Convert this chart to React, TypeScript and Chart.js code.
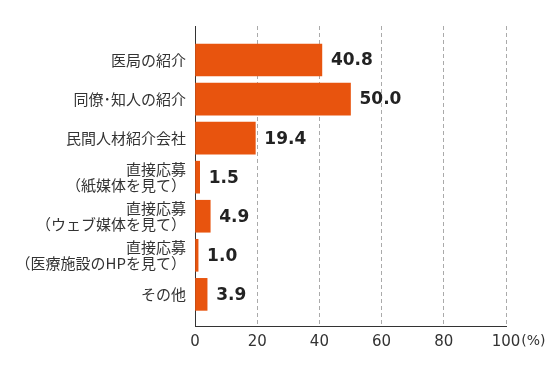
import React, { useEffect, useRef } from "react";
import { Chart, registerables } from "chart.js";

Chart.register(...registerables);

const categories: string[][] = [
  ["医局の紹介"],
  ["同僚･知人の紹介"],
  ["民間人材紹介会社"],
  ["直接応募", "（紙媒体を見て）"],
  ["直接応募", "（ウェブ媒体を見て）"],
  ["直接応募", "（医療施設のHPを見て）"],
  ["その他"],
];
const values: number[] = [40.8, 50.0, 19.4, 1.5, 4.9, 1.0, 3.9];
const xTicks: number[] = [0, 20, 40, 60, 80, 100];
const unitLabel = "(%)";

const BAR_COLOR = "#E8540E";

export default function App() {
  const ref = useRef<HTMLCanvasElement | null>(null);

  useEffect(() => {
    if (!ref.current) return;
    const valueLabels = {
      id: "valueLabels",
      afterDatasetsDraw(chart: any) {
        const ctx = chart.ctx;
        const meta = chart.getDatasetMeta(0);
        ctx.save();
        ctx.font = "bold 17px 'DejaVu Sans'";
        ctx.fillStyle = "#222";
        ctx.textAlign = "left";
        ctx.textBaseline = "middle";
        meta.data.forEach((el: any, i: number) => {
          ctx.fillText(values[i].toFixed(1), el.x + 9, el.y + 1);
        });
        ctx.restore();
      },
      afterDraw(chart: any) {
        const ctx = chart.ctx;
        const xs = chart.scales.x;
        const last = xTicks[xTicks.length - 1];
        ctx.save();
        ctx.font = "15px 'DejaVu Sans'";
        const w = ctx.measureText(String(last)).width;
        ctx.fillStyle = "#333";
        ctx.textAlign = "left";
        ctx.textBaseline = "middle";
        ctx.font = "14px 'DejaVu Sans'";
        ctx.fillText(unitLabel, xs.getPixelForValue(last) + w / 2 + 1, xs.top + 15);
        ctx.restore();
      },
    };

    const chart = new Chart(ref.current, {
      type: "bar",
      data: {
        datasets: [
          {
            data: values.map((v, i) => ({ x: v, y: i })),
            backgroundColor: BAR_COLOR,
            borderWidth: 0,
            barThickness: 32,
          },
        ],
      },
      options: {
        indexAxis: "y",
        animation: false,
        responsive: true,
        maintainAspectRatio: false,
        layout: { padding: { top: 26, right: 44, left: 0, bottom: 0 } },
        plugins: {
          legend: { display: false },
          tooltip: { enabled: false },
        },
        scales: {
          x: {
            type: "linear",
            min: 0,
            max: 100,
            offset: false,
            afterBuildTicks(scale: any) {
              scale.ticks = xTicks.map((v) => ({ value: v }));
            },
            afterFit(scale: any) {
              scale.height = 46;
            },
            grid: {
              drawTicks: false,
              offset: false,
              lineWidth: 1,
              color: (c: any) => (c.tick && c.tick.value === 0 ? "rgba(0,0,0,0)" : "#aaaaaa"),
            },
            border: { display: true, color: "#333", width: 1, dash: [4, 3] },
            ticks: {
              padding: 7,
              color: "#333",
              font: { family: "'DejaVu Sans'", size: 15 },
              maxRotation: 0,
            },
          },
          y: {
            type: "linear",
            reverse: true,
            offset: false,
            min: -0.87,
            max: 6.81,
            afterBuildTicks(scale: any) {
              scale.ticks = categories.map((_, i) => ({ value: i }));
            },
            afterFit(scale: any) {
              scale.width = 195;
            },
            grid: { display: false, drawTicks: false, offset: false },
            border: { display: true, color: "#333", width: 1 },
            ticks: {
              padding: 9,
              color: "#333",
              autoSkip: false,
              font: { family: "'Noto Sans CJK JP'", size: 15, lineHeight: 1.1 },
              callback: (v: any) => categories[v as number] ?? "",
            },
          },
        },
      },
      plugins: [valueLabels],
    } as any);
    return () => chart.destroy();
  }, []);

  return (
    <div style={{ position: "absolute", left: 0, top: 0, width: 550, height: 372, background: "#fff" }}>
      <canvas ref={ref} />
    </div>
  );
}
